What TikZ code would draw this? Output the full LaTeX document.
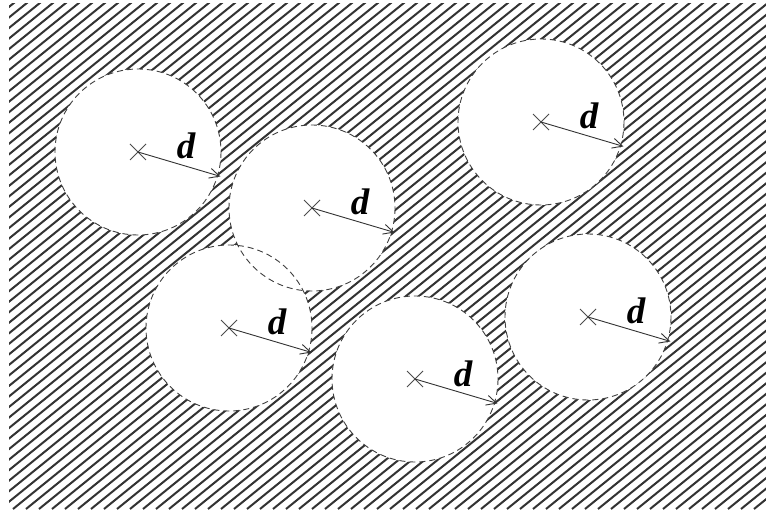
\documentclass[tikz,border=0pt]{standalone}
\usepackage{fontspec}
\setmainfont{Liberation Serif}
\usetikzlibrary{calc,arrows.meta}
\begin{document}
\begin{tikzpicture}[x=1pt,y=-1pt,
	hatch/.style={line width=2pt,black!80},
	hole/.style={dash pattern=on 6pt off 4pt,line width=0.9pt,black!75},
	dist/.style={-{Straight Barb[length=10pt,width=10pt]},line width=0.9pt,black!80},
	xmark/.style={line width=0.9pt,black!70},
	lbl/.style={font=\fontsize{37}{37}\selectfont\bfseries\itshape,anchor=base,inner sep=0pt}]
	\useasboundingbox (0,0) rectangle (766,521);
	\fill[white] (0,0) rectangle (766,521);
	% hatched background
	\begin{scope}
		\clip (9,4) rectangle (766,509);
		\foreach \i in {-650,-637,...,770}
			\draw[hatch] (\i,509) -- ++(-39:820);
	\end{scope}
	% holes
	\foreach \n/\x/\y in {1/138/152, 2/312/208, 3/229/328, 4/415/379, 5/541/122, 6/588/317}
		\coordinate (c\n) at (\x,\y);
	\foreach \n in {1,...,6}
		\fill[white] (c\n) circle (83);
	\foreach \n in {1,...,6}{
		\draw[hole] (c\n) circle (83);
		\draw[xmark] ($(c\n)+(-8,-8)$) -- ($(c\n)+(8,8)$) ($(c\n)+(-8,8)$) -- ($(c\n)+(8,-8)$);
		\coordinate (e\n) at ($(c\n)+(16.5:86)$);
		\draw[dist] (c\n) -- (e\n);
		\node[lbl] (d\n) at ($(c\n)+(48,7)$) {d};
	}
\end{tikzpicture}
\end{document}
